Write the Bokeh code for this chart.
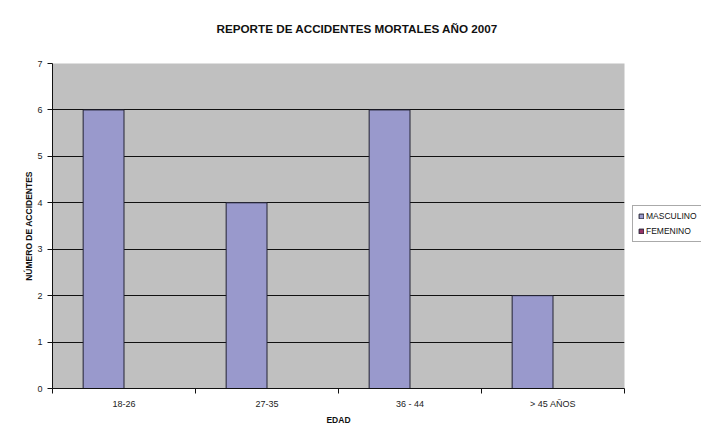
from bokeh.plotting import figure
from bokeh.models import Range1d, FixedTicker, ColumnDataSource, Legend, LegendItem, Title
from bokeh.embed import file_html
from bokeh.resources import INLINE
import numpy as np

categories = ["18-26", "27-35", "36 - 44", "> 45 AÑOS"]
masculino = [6, 4, 6, 2]
femenino = [0, 0, 0, 0]
y_ticks = [0, 1, 2, 3, 4, 5, 6, 7]
series_names = ["MASCULINO", "FEMENINO"]
chart_title = "REPORTE DE ACCIDENTES MORTALES AÑO 2007"
x_title = "EDAD"
y_title = "NÚMERO DE ACCIDENTES"

FONT = "Liberation Sans"
n = len(categories)
centers = np.arange(n) + 0.5
bar_w = 1 / 3.5
src = ColumnDataSource(dict(x_m=centers - bar_w / 2, x_f=centers + bar_w / 2,
                            m=masculino, f=femenino))

p = figure(frame_width=572, frame_height=325, output_backend="svg", toolbar_location=None,
           x_range=Range1d(0, n), y_range=Range1d(0, max(y_ticks)),
           min_border_left=52, min_border_right=76, min_border_top=63,
           min_border_bottom=40)
p.background_fill_color = "#C0C0C0"
p.border_fill_color = "white"
p.outline_line_color = None

r_m = p.vbar(x="x_m", top="m", width=bar_w, source=src, fill_color="#9999CC",
             line_color="#222233", line_width=1)
r_f = p.vbar(x="x_f", top="f", width=bar_w, source=src, fill_color="#993366",
             line_color="#222233", line_width=1)

# real title (outermost) and a blank spacer title next to the frame
p.title.text = chart_title
p.title.align = "left"
p.title.offset = 164
p.title.standoff = 0
p.title.text_font = FONT
p.title.text_font_size = "11.7px"
p.title.text_font_style = "bold"
p.title.text_color = "#111111"
spacer = Title(text=" ", standoff=0, text_font=FONT, text_font_size="24px")
p.add_layout(spacer, "above")

# x axis
xa = p.xaxis[0]
xa.ticker = FixedTicker(ticks=list(centers), minor_ticks=list(range(n + 1)))
xa.major_label_overrides = {float(c): lab for c, lab in zip(centers, categories)}
xa.major_tick_in = 0
xa.major_tick_out = 0
xa.minor_tick_in = 0
xa.minor_tick_out = 5
xa.minor_tick_line_color = "#111111"
xa.axis_line_color = "#111111"
xa.major_label_text_font = FONT
xa.major_label_text_font_size = "9px"
xa.major_label_text_color = "#222222"
xa.major_label_standoff = 5
xa.axis_label = x_title
xa.axis_label_text_font = FONT
xa.axis_label_text_font_size = "8.5px"
xa.axis_label_text_font_style = "bold"
xa.axis_label_text_color = "#111111"
xa.axis_label_standoff = 3

# y axis
ya = p.yaxis[0]
ya.ticker = FixedTicker(ticks=y_ticks)
ya.minor_tick_line_color = None
ya.major_tick_in = 0
ya.major_tick_out = 5
ya.major_tick_line_color = "#111111"
ya.axis_line_color = "#111111"
ya.major_label_text_font = FONT
ya.major_label_text_font_size = "9px"
ya.major_label_text_color = "#222222"
ya.major_label_standoff = 5
ya.axis_label = y_title
ya.axis_label_text_font = FONT
ya.axis_label_text_font_size = "8.5px"
ya.axis_label_text_font_style = "bold"
ya.axis_label_text_color = "#111111"
ya.axis_label_standoff = 0

p.xgrid.grid_line_color = None
p.ygrid.ticker = FixedTicker(ticks=y_ticks[1:-1])
p.ygrid.grid_line_color = "#111111"
p.ygrid.grid_line_width = 1

legend = Legend(items=[LegendItem(label=series_names[0], renderers=[r_m]),
                       LegendItem(label=series_names[1], renderers=[r_f])],
                location=(8, 146))
legend.label_text_font = FONT
legend.label_text_font_size = "8.5px"
legend.label_text_color = "#111111"
legend.glyph_width = 6
legend.glyph_height = 6
legend.label_height = 10
legend.spacing = 5
legend.padding = 5
legend.margin = 0
legend.label_standoff = 2
legend.border_line_color = "#555555"
legend.background_fill_color = "white"
legend.background_fill_alpha = 1
p.add_layout(legend, "right")

open("out.html", "w").write(file_html(p, INLINE))
